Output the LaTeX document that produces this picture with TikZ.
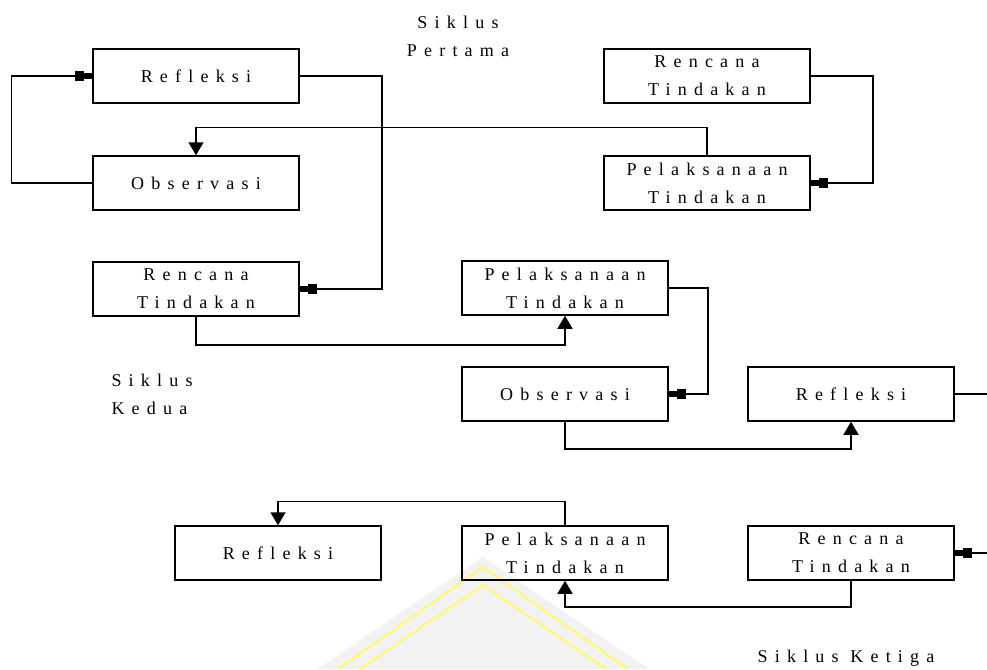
\documentclass[tikz,border=0pt]{standalone}
\usepackage{fontspec}
\setmainfont{Liberation Serif}[LetterSpace=40]
\usetikzlibrary{arrows.meta}

\begin{document}
\begin{tikzpicture}[x=1pt,y=-1pt,
    box/.style={draw,line width=1.5pt,minimum width=206pt,minimum height=54pt,
      inner sep=0pt,align=center,font=\fontsize{18}{28}\selectfont},
    lbl/.style={align=center,font=\fontsize{18}{28}\selectfont},
    plug/.style={line width=1.5pt,-{Square[length=9pt,width=10pt]Square[length=8pt,width=6pt]}},
    tri/.style={line width=1.5pt,-{Triangle[length=13pt,width=15pt]}}]
                % frame of the page
                \clip (0,0) rectangle (987,669);
                
                % watermark
                \fill[gray!10] (483,557) -- (317,669) -- (649,669) -- cycle;
                \draw[yellow!55,line width=2pt] (338,669) -- (483,567) -- (628,669);
                \draw[yellow!55,line width=2pt] (360,669) -- (483,585) -- (606,669);
                
                % Section labels
                \node[lbl] (s1) at (458,36) {Siklus\\Pertama};
                \node[lbl,anchor=west,align=left] (s2) at (108,394) {Siklus\\Kedua};
                \node[lbl] (s3) at (846,658) {Siklus Ketiga};
                
                % Siklus pertama
                \node[box] (ref1) at (196,76) {Refleksi};
                \node[box] (obs1) at (196,183) {Observasi};
                \node[box] (ren1) at (707,76) {Rencana\\Tindakan};
                \node[box] (pel1) at (707,183) {Pelaksanaan\\Tindakan};
                
                % Siklus kedua
                \node[box] (ren2) at (196,289) {Rencana\\Tindakan};
                \node[box] (pel2) at (565,288) {Pelaksanaan\\Tindakan};
                \node[box] (obs2) at (565,394) {Observasi};
                \node[box] (ref2) at (851,394) {Refleksi};
                
                % Siklus ketiga
                \node[box] (ref3) at (278,553) {Refleksi};
                \node[box] (pel3) at (565,553) {Pelaksanaan\\Tindakan};
                \node[box] (ren3) at (851,553) {Rencana\\Tindakan};
                
                % Connectors
                \draw[plug] (ren1.east) -- ++(62,0) |- (pel1.east);
                \draw[tri] (pel1.north) -- ++(0,-28) -| (obs1.north);
                \draw[plug] (obs1.west) -- ++(-81,0) |- (ref1.west);
                \draw[plug] (ref1.east) -- ++(82,0) |- (ren2.east);
                \draw[tri] (ren2.south) -- ++(0,28) -| (pel2.south);
                \draw[plug] (pel2.east) -- ++(39,0) |- (obs2.east);
                \draw[tri] (obs2.south) -- ++(0,27) -| (ref2.south);
                \draw[plug] (ref2.east) -- ++(57,0) |- (ren3.east);
                \draw[tri] (ren3.south) -- ++(0,26) -| (pel3.south);
                \draw[tri] (pel3.north) -- ++(0,-24) -| (ref3.north);
                
\end{tikzpicture}
\end{document}
